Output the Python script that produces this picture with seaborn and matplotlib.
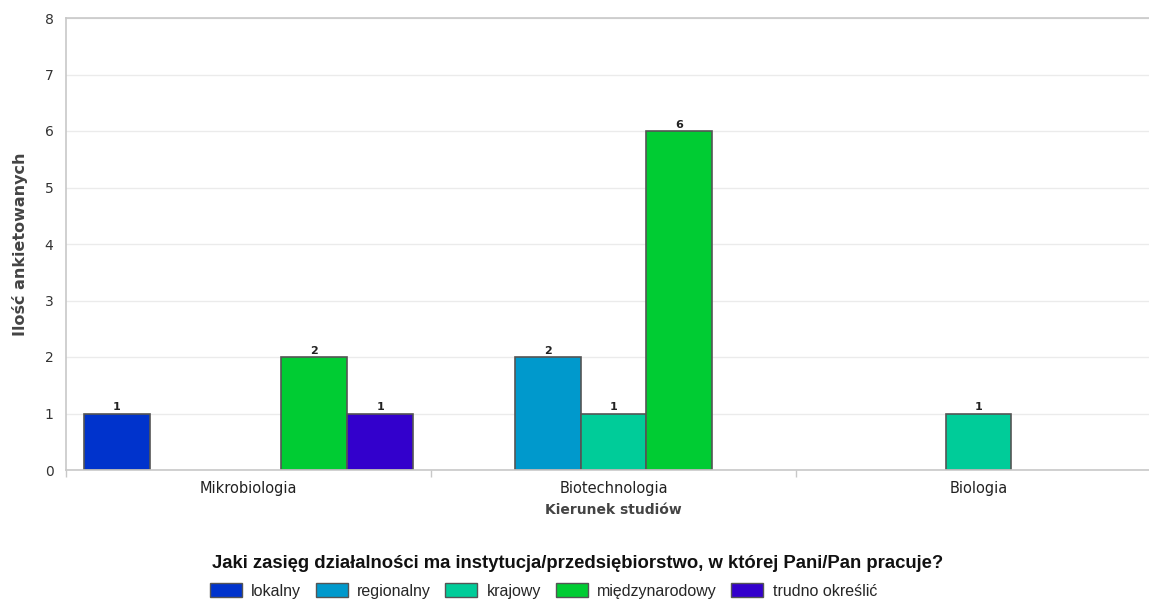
import matplotlib
matplotlib.use("Agg")
import matplotlib.pyplot as plt
from matplotlib.patches import Patch
import seaborn as sns
import pandas as pd

# Survey counts: field of study x scope of the employer's activity
fields = ["Mikrobiologia", "Biotechnologia", "Biologia"]
scopes = ["lokalny", "regionalny", "krajowy", "międzynarodowy", "trudno określić"]
rec_field = ["Mikrobiologia", "Mikrobiologia", "Mikrobiologia",
             "Biotechnologia", "Biotechnologia", "Biotechnologia",
             "Biologia"]
rec_scope = ["lokalny", "międzynarodowy", "trudno określić",
             "regionalny", "krajowy", "międzynarodowy",
             "krajowy"]
rec_count = [1, 2, 1, 2, 1, 6, 1]
colors = ["#0033CC", "#0099CC", "#00CC99", "#00CC33", "#3300CC"]

df = pd.DataFrame({"kierunek": rec_field, "zasieg": rec_scope, "ilosc": rec_count})

sns.set_theme(style="white")
plt.rcParams["font.family"] = ["DejaVu Sans"]

fig = plt.figure(figsize=(11.49, 6.01), dpi=100)
ax = fig.add_axes([66 / 1149, 131 / 601, 1095 / 1149, 452 / 601])

sns.barplot(data=df, x="kierunek", y="ilosc", hue="zasieg",
            order=fields, hue_order=scopes, palette=colors,
            width=0.904, dodge=True, edgecolor="#555555", linewidth=1.2,
            saturation=1, errorbar=None, legend=False, ax=ax)

for cont in ax.containers:
    ax.bar_label(cont, fmt="%d", padding=1, fontsize=8, fontweight="bold",
                 color="#222222")

ax.set_ylim(0, 8)
ax.set_xlim(-0.5, 2.5)
ax.set_yticks(range(0, 9))
ax.yaxis.grid(True, color="#ebebeb", linewidth=1)
ax.set_axisbelow(True)

for side in ["top", "left", "bottom"]:
    ax.spines[side].set_color("#c8c8c8")
    ax.spines[side].set_linewidth(1.2)
ax.spines["right"].set_visible(False)

ax.tick_params(axis="y", length=0, pad=9, labelsize=10, labelcolor="#333333")
ax.tick_params(axis="x", which="major", length=0, pad=8, labelsize=10.5,
               labelcolor="#222222")
ax.set_xticks([-0.5, 0.5, 1.5], minor=True)
ax.tick_params(axis="x", which="minor", length=5, color="#c8c8c8", width=1,
               direction="out", bottom=True)

ax.set_ylabel("Ilość ankietowanych", fontsize=11.5, fontweight="bold",
              color="#444444", labelpad=12)
ax.set_xlabel("Kierunek studiów", fontsize=10, fontweight="bold",
              color="#444444", labelpad=5)

fig.text(0.503, 1 - 563 / 601,
         "Jaki zasięg działalności ma instytucja/przedsiębiorstwo, w której Pani/Pan pracuje?",
         ha="center", va="center", fontsize=13.3, fontweight="bold",
         family="Liberation Sans", color="#111111")

handles = [Patch(facecolor=c, edgecolor="#555555", linewidth=1) for c in colors]
fig.legend(handles, scopes, loc="center", bbox_to_anchor=(0.473, 1 - 591 / 601),
           ncol=5, frameon=False, handlelength=2.0, handleheight=1.0,
           handletextpad=0.6, columnspacing=0.9,
           prop={"family": "Liberation Sans", "size": 11.5})

fig.savefig("out.png", dpi=100)
